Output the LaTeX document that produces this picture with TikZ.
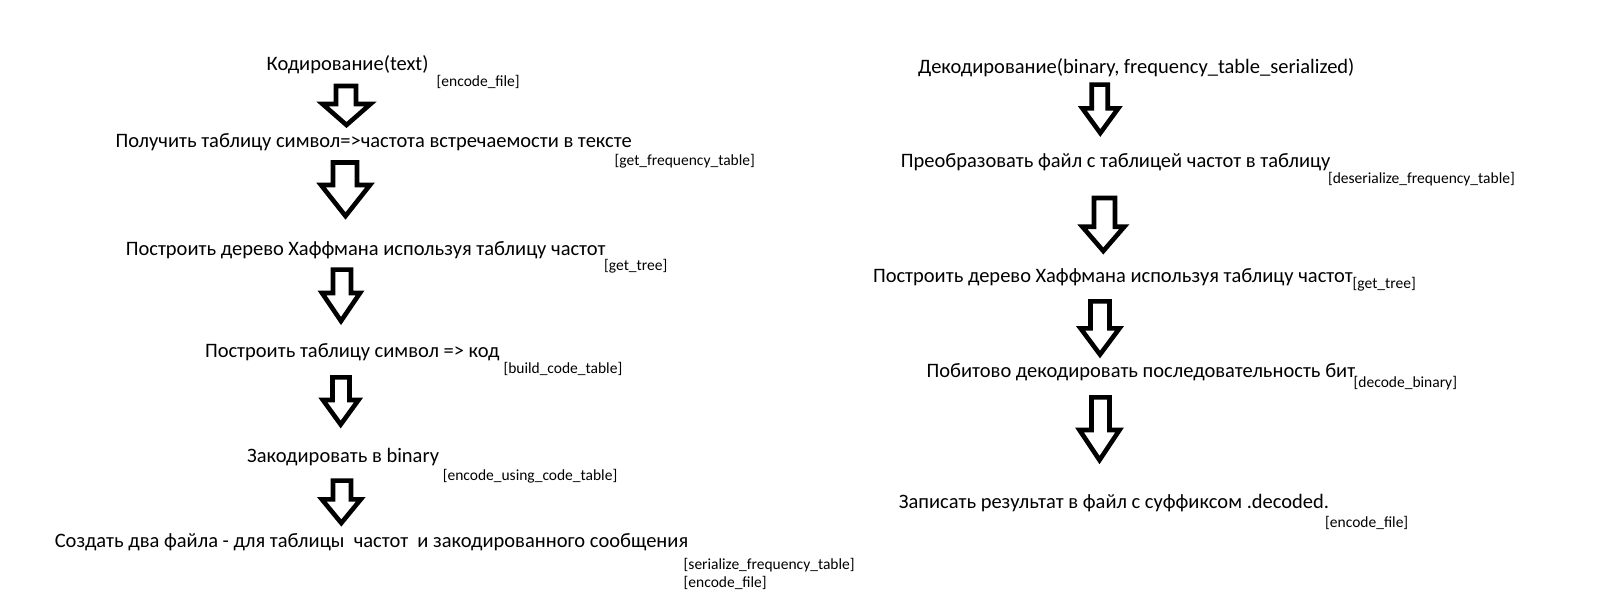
\documentclass[tikz,border=0pt]{standalone}
\usepackage{fontspec}
\setmainfont{Carlito}
\begin{document}
\begin{tikzpicture}[x=1pt,y=-1pt,
  stepline/.style={anchor=base west,inner sep=0pt,font=\fontsize{20.5}{24}\selectfont},
  fname/.style={anchor=base west,inner sep=0pt,font=\fontsize{15.5}{18}\selectfont},
  blockarrow/.style={draw=black,line width=4.6pt,line join=miter,fill=white}]
\useasboundingbox (0,0) rectangle (1614,610);
% block arrow: shaft centre, head centre, top, shoulder, tip, shaft half width, head half width
\newcommand\blockarr[7]{%
  \draw[blockarrow] ({#1-#6},#3) -- ({#1+#6},#3) -- ({#1+#6},#4) -- ({#2+#7},#4)
    -- (#2,#5) -- ({#2-#7},#4) -- ({#1-#6},#4) -- cycle;}

% encoding
\node[stepline] (t1) at (266.5,70.5){Кодирование(text)};
\node[fname]    (l1) at (436.5,86)  {[encode\_file]};
\node[stepline] (t2) at (115.3,147) {Получить таблицу символ=>частота встречаемости в тексте};
\node[fname]    (l2) at (614.5,165) {[get\_frequency\_table]};
\node[stepline] (t3) at (125.6,255) {Построить дерево Хаффмана используя таблицу частот};
\node[fname]    (l3) at (604,270)   {[get\_tree]};
\node[stepline] (t4) at (204.8,357) {Построить таблицу символ => код};
\node[fname]    (l4) at (503.3,373) {[build\_code\_table]};
\node[stepline] (t5) at (247,462)   {Закодировать в binary};
\node[fname]    (l5) at (442.6,480) {[encode\_using\_code\_table]};
\node[stepline] (t6) at (54.6,547)  {Создать два файла - для таблицы\ \ частот\ \ и закодированного сообщения};
\node[fname]    (l6) at (683.5,569) {[serialize\_frequency\_table]};
\node[fname]    (l7) at (683.5,587) {[encode\_file]};

\blockarr{346}{346.5}{86}{104}{125}{10}{24}
\blockarr{345}{345.5}{162.5}{185}{216}{12}{24.5}
\blockarr{342}{341}{269.6}{293}{321}{9}{19}
\blockarr{341}{340.7}{377.3}{400}{424.5}{8.5}{17.8}
\blockarr{342}{341.3}{480.6}{499.3}{523}{9}{19.5}

% decoding
\node[stepline] (r1) at (918,74)      {Декодирование(binary, frequency\_table\_serialized)};
\node[stepline] (r2) at (900.6,167.6) {Преобразовать файл с таблицей частот в таблицу};
\node[fname]    (m2) at (1327.8,183.5){[deserialize\_frequency\_table]};
\node[stepline] (r3) at (872.8,282)   {Построить дерево Хаффмана используя таблицу частот};
\node[fname]    (m3) at (1352.5,288.5){[get\_tree]};
\node[stepline] (r4) at (926.4,377.6) {Побитово декодировать последовательность бит};
\node[fname]    (m4) at (1353.5,387.5){[decode\_binary]};
\node[stepline] (r5) at (898.6,508.5) {Записать результат в файл с суффиксом .decoded.};
\node[fname]    (m5) at (1325,527)    {[encode\_file]};

\blockarr{1099.7}{1100.3}{84.6}{108.3}{133}{8}{18}
\blockarr{1104.5}{1103.3}{198}{226.7}{251}{10.5}{21}
\blockarr{1100}{1100}{301.3}{328.3}{354.5}{9.5}{19.5}
\blockarr{1100.5}{1099.5}{397.3}{430}{460}{9}{20}
\end{tikzpicture}
\end{document}
